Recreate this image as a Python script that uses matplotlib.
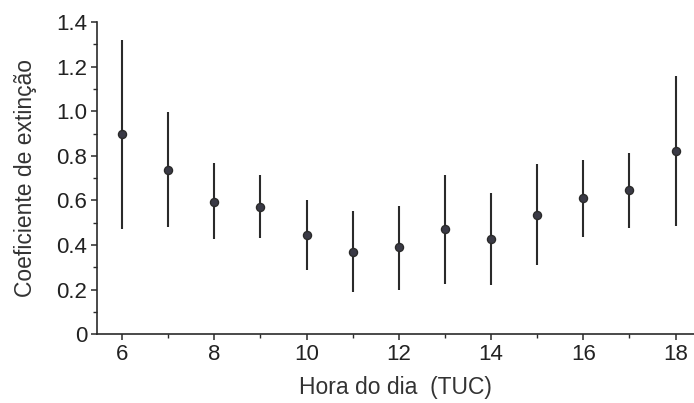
import matplotlib

matplotlib.use("Agg")
import matplotlib.pyplot as plt
from matplotlib.ticker import MultipleLocator

plt.rcParams["font.family"] = ["Liberation Sans", "DejaVu Sans"]

# Hour of day (UTC) and extinction coefficient with its range
hours = [6, 7, 8, 9, 10, 11, 12, 13, 14, 15, 16, 17, 18]
coef = [0.896, 0.737, 0.594, 0.571, 0.443, 0.369, 0.389, 0.470, 0.425, 0.534, 0.612, 0.646, 0.823]
upper = [1.319, 0.995, 0.766, 0.713, 0.601, 0.553, 0.574, 0.716, 0.634, 0.763, 0.781, 0.815, 1.158]
lower = [0.470, 0.479, 0.425, 0.432, 0.287, 0.190, 0.200, 0.224, 0.220, 0.310, 0.437, 0.476, 0.485]

INK = "#2a2a2a"

fig = plt.figure(figsize=(6.94, 4.03), dpi=100)
ax = fig.add_axes([0.14, 0.171, 0.86, 0.774])

err_lo = [c - l for c, l in zip(coef, lower)]
err_hi = [u - c for c, u in zip(coef, upper)]
ax.errorbar(hours, coef, yerr=[err_lo, err_hi], fmt="o", color=INK,
            markersize=5.8, markerfacecolor="#3a3a46", markeredgecolor=INK,
            elinewidth=1.5, capsize=0, zorder=3)

ax.set_xlim(5.46, 18.4)
ax.set_ylim(0, 1.4)
ax.xaxis.set_major_locator(MultipleLocator(2))
ax.xaxis.set_minor_locator(MultipleLocator(1))
ax.yaxis.set_major_locator(MultipleLocator(0.2))
ax.yaxis.set_minor_locator(MultipleLocator(0.1))
ax.yaxis.set_major_formatter(lambda v, p: "0" if abs(v) < 1e-9 else f"{v:.1f}")

for side in ("top", "right"):
    ax.spines[side].set_visible(False)
for side in ("left", "bottom"):
    ax.spines[side].set_color(INK)
    ax.spines[side].set_linewidth(1.2)

ax.tick_params(which="major", direction="out", length=4, width=1.1, colors=INK,
               labelsize=16, labelcolor="#222222", pad=3)
ax.tick_params(which="minor", direction="out", length=3, width=1.0, colors=INK)

ax.set_xlabel("Hora do dia  (TUC)", fontsize=16.5, color="#333333", labelpad=8)
ax.set_ylabel("Coeficiente de extinção", fontsize=16.5, color="#333333", labelpad=14)

fig.savefig("out.png", dpi=100)
